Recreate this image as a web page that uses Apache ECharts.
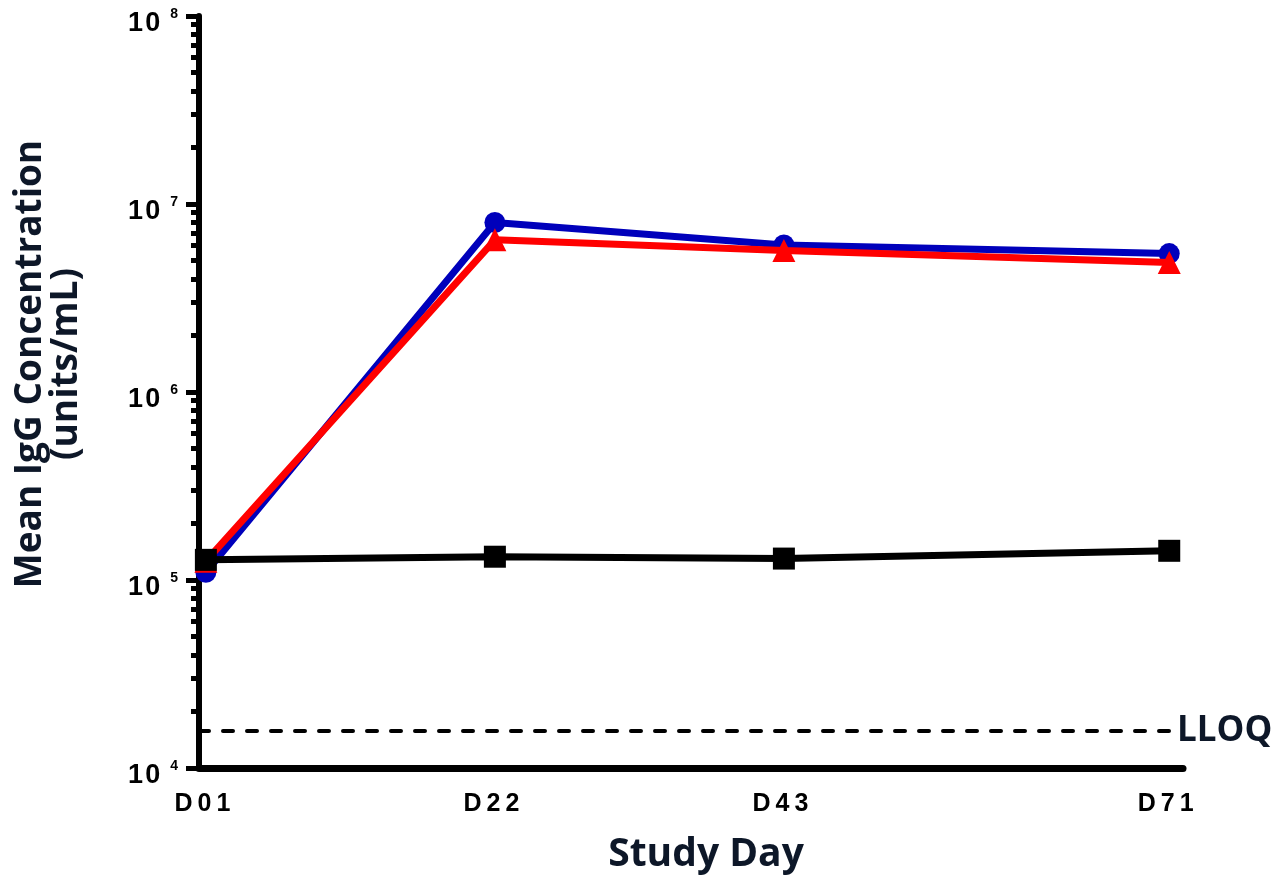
<!DOCTYPE html>
<html>
<head>
<meta charset="utf-8">
<script src="https://cdn.jsdelivr.net/npm/echarts@6/dist/echarts.min.js"></script>
<style>
html,body{margin:0;padding:0;background:#fff;}
#chart{width:1271px;height:878px;}
</style>
</head>
<body>
<div id="chart"></div>
<script>
// ---- data ----
const days = [1, 22, 43, 71];
const dayLabels = ['D01', 'D22', 'D43', 'D71'];
const blueVals = [1.10e5, 7.97e6, 6.05e6, 5.45e6];
const redVals = [1.26e5, 6.45e6, 5.65e6, 4.88e6];
const blackVals = [1.28e5, 1.33e5, 1.30e5, 1.43e5];
const lloq = 15800;
const yTickExps = ['4', '5', '6', '7', '8'];
const yTitle = 'Mean IgG Concentration\n(units/mL)';
const xTitle = 'Study Day';
const lloqLabel = 'LLOQ';

const numFont = "'Liberation Sans', Arial, sans-serif";
const titleFont = "'Open Sans', 'Noto Sans', sans-serif";
const navy = '#0d1728';

function pairs(vals) { return days.map((d, i) => [d, vals[i]]); }

// minor tick positions (log-space) for the decoration axis
const minorTicks = [];
for (let e = 4; e < 8; e++) {
  for (let k = 2; k <= 9; k++) minorTicks.push(Math.log10(k) + e);
}

const chart = echarts.init(document.getElementById('chart'), null, {renderer: 'canvas'});
chart.setOption({
  animation: false,
  backgroundColor: '#fff',
  grid: {left: 199, right: 88, top: 16, bottom: 110, containLabel: false},
  xAxis: {
    type: 'value', min: 0.5, max: 72,
    axisLine: {show: true, lineStyle: {color: '#000', width: 7}},
    axisTick: {show: false},
    splitLine: {show: false},
    axisLabel: {
      customValues: days,
      margin: 24,
      padding: [0, 7, 0, 0],
      fontFamily: numFont, fontWeight: 'bold', fontSize: 25, color: '#000',
      formatter: v => dayLabels[days.indexOf(v)].split('').join('\u2009')
    }
  },
  yAxis: [{
    type: 'log', logBase: 10, min: 1e4, max: 1e8,
    position: 'left',
    axisLine: {show: true, lineStyle: {color: '#000', width: 6}},
    axisTick: {show: true, length: 13, lineStyle: {color: '#000', width: 5}},
    splitLine: {show: false},
    axisLabel: {
      margin: 21,
      formatter: v => {
        const e = Math.round(Math.log10(v));
        return '{b|1\u200A0}{s|' + yTickExps[e - 4] + '}';
      },
      rich: {
        b: {fontFamily: numFont, fontWeight: 'bold', fontSize: 27, color: '#000', padding: [16, 0, 0, 0]},
        s: {fontFamily: numFont, fontWeight: 'bold', fontSize: 14, color: '#000', verticalAlign: 'top', padding: [13, 0, 0, 10]}
      }
    }
  }, {
    type: 'value', min: 4, max: 8,
    position: 'left', offset: 0,
    axisLine: {show: false},
    splitLine: {show: false},
    axisLabel: {show: false},
    axisTick: {show: true, customValues: minorTicks, length: 8, lineStyle: {color: '#000', width: 5}}
  }],
  series: [{
    name: 'blue', type: 'line', data: pairs(blueVals),
    yAxisIndex: 0,
    symbol: 'circle', symbolSize: 21,
    lineStyle: {color: '#0000bb', width: 7},
    itemStyle: {color: '#0000bb'},
    z: 2
  }, {
    name: 'red', type: 'line', data: pairs(redVals),
    yAxisIndex: 0,
    symbol: 'triangle', symbolSize: 23,
    lineStyle: {color: '#ff0000', width: 7},
    itemStyle: {color: '#ff0000'},
    z: 3
  }, {
    name: 'black', type: 'line', data: pairs(blackVals),
    yAxisIndex: 0,
    symbol: 'rect', symbolSize: 22,
    lineStyle: {color: '#000', width: 7},
    itemStyle: {color: '#000'},
    z: 4,
    markLine: {
      silent: true, symbol: 'none',
      lineStyle: {color: '#000', width: 4, type: [10, 14], cap: 'round'},
      label: {show: true, position: 'end', formatter: lloqLabel, distance: -10,
        backgroundColor: '#fff', padding: [0, 0, 0, 4],
        fontFamily: titleFont, fontWeight: 'bold', fontSize: 35, color: navy},
      data: [{yAxis: lloq}]
    }
  }],
  graphic: [{
    type: 'text', x: 48, y: 364, rotation: Math.PI / 2,
    style: {text: yTitle, fontFamily: titleFont, fontWeight: 'bold', fontSize: 37, lineHeight: 36,
      fill: navy, align: 'center', verticalAlign: 'middle', textAlign: 'center', textVerticalAlign: 'middle'}
  }, {
    type: 'text', x: 706, y: 855,
    style: {text: xTitle, fontFamily: titleFont, fontWeight: 'bold', fontSize: 39,
      fill: navy, align: 'center', verticalAlign: 'middle', textAlign: 'center', textVerticalAlign: 'middle'}
  }]
});
</script>
</body>
</html>
